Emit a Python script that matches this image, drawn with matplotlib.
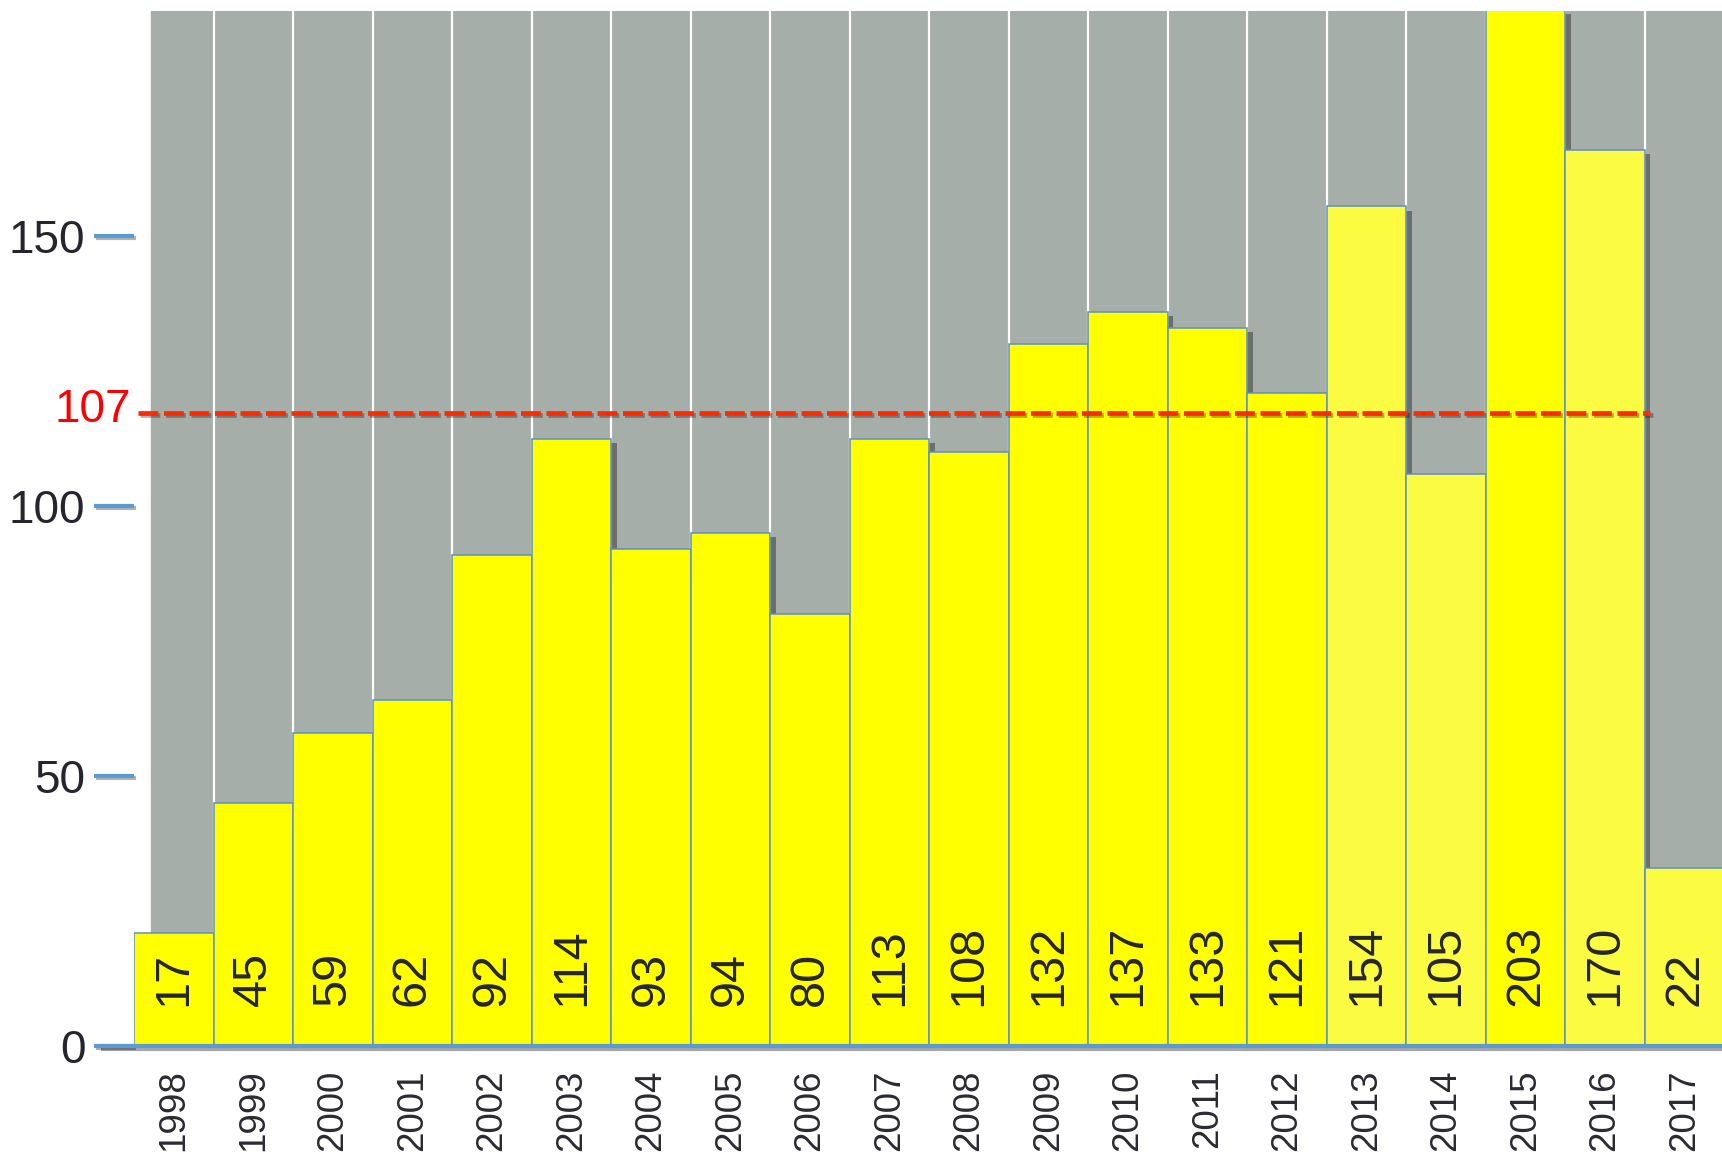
import numpy as np
import matplotlib.pyplot as plt
import matplotlib.patheffects as pe

plt.rcParams['font.family'] = ['Liberation Sans', 'DejaVu Sans']

# data
years = [str(y) for y in range(1998, 2018)]
counts = [17, 45, 59, 62, 92, 114, 93, 94, 80, 113, 108, 132, 137, 133, 121, 154, 105, 203, 170, 22]
# drawn bar heights (on the axis scale, not equal to the printed counts)
heights = [21, 45, 58, 64, 91, 112.5, 92, 95, 80, 112.5, 110, 130, 136, 133, 121, 155.5, 106, 192, 166, 33]
light = [False] * 15 + [True, True, False, True, True]
mean_label = "107"
mean_pos = 117.3
yticks = [0, 50, 100, 150]

gray = "#a5aea9"
edge = "#5b8fcc"
blue = "#5b9bd5"

fig = plt.figure(figsize=(17.22, 11.54), dpi=100)
ax = fig.add_axes([134 / 1722, (1154 - 1046) / 1154, 1 - 134 / 1722, (1046 - 11) / 1154])
ax.patch.set_visible(False)

x = np.arange(len(years))
xmin, xmax = -0.5, 19.47
ax.set_xlim(xmin, xmax)
ax.set_ylim(0, 191.7)

# gray background with white column lines
ax.axvspan(-0.28, xmax, color=gray, zorder=0)
for i in range(1, len(years)):
    ax.axvline(i - 0.5, color="white", lw=1.6, zorder=1)

shadow = [pe.SimplePatchShadow(offset=(4, -3), shadow_rgbFace="#303030", alpha=0.5), pe.Normal()]
colors = ["#fbfb42" if l else "#ffff00" for l in light]
bars = ax.bar(x, heights, width=1.0, color=colors, edgecolor=edge, linewidth=1.1,
              zorder=2)
for b in bars:
    b.set_path_effects(shadow)

for xi, c in zip(x, counts):
    ax.text(xi, 7.5, str(c), rotation=90, ha="center", va="bottom",
            fontsize=35, color="#25252f", zorder=4)

# red dashed reference line
ln, = ax.plot([-0.45, 18.57], [mean_pos, mean_pos], color="#ff2a00", lw=3.4, zorder=5)
ln.set_dashes((4.2, 1.2))
ln.set_path_effects([pe.SimpleLineShadow(offset=(1.5, -1.5), alpha=0.3), pe.Normal()])
ax.text(-0.54, mean_pos + 0.5, mean_label, color="red", fontsize=33, ha="right", va="center",
        zorder=5, clip_on=False)

# bottom axis line
bl, = ax.plot([-0.95, xmax], [0, 0], color=blue, lw=3, zorder=3, clip_on=False,
              solid_capstyle="butt")
bl.set_path_effects([pe.SimpleLineShadow(offset=(2, -2), alpha=0.35), pe.Normal()])

for s in ax.spines.values():
    s.set_visible(False)

ax.set_yticks(yticks)
ax.set_yticklabels([str(t) for t in yticks])
ax.tick_params(axis="y", length=29, width=3, color=blue, pad=6, labelsize=33,
               labelcolor="#25252f")
ax.set_xticks(x)
ax.set_xticklabels(years, rotation=90, va="top")
ax.tick_params(axis="x", length=0, pad=17, labelsize=26.5, labelcolor="#2a2a33")
for t in ax.yaxis.get_major_ticks():
    t.tick1line.set_path_effects([pe.SimpleLineShadow(offset=(1.5, -1.5), alpha=0.3), pe.Normal()])

fig.savefig("out.png", dpi=100)
